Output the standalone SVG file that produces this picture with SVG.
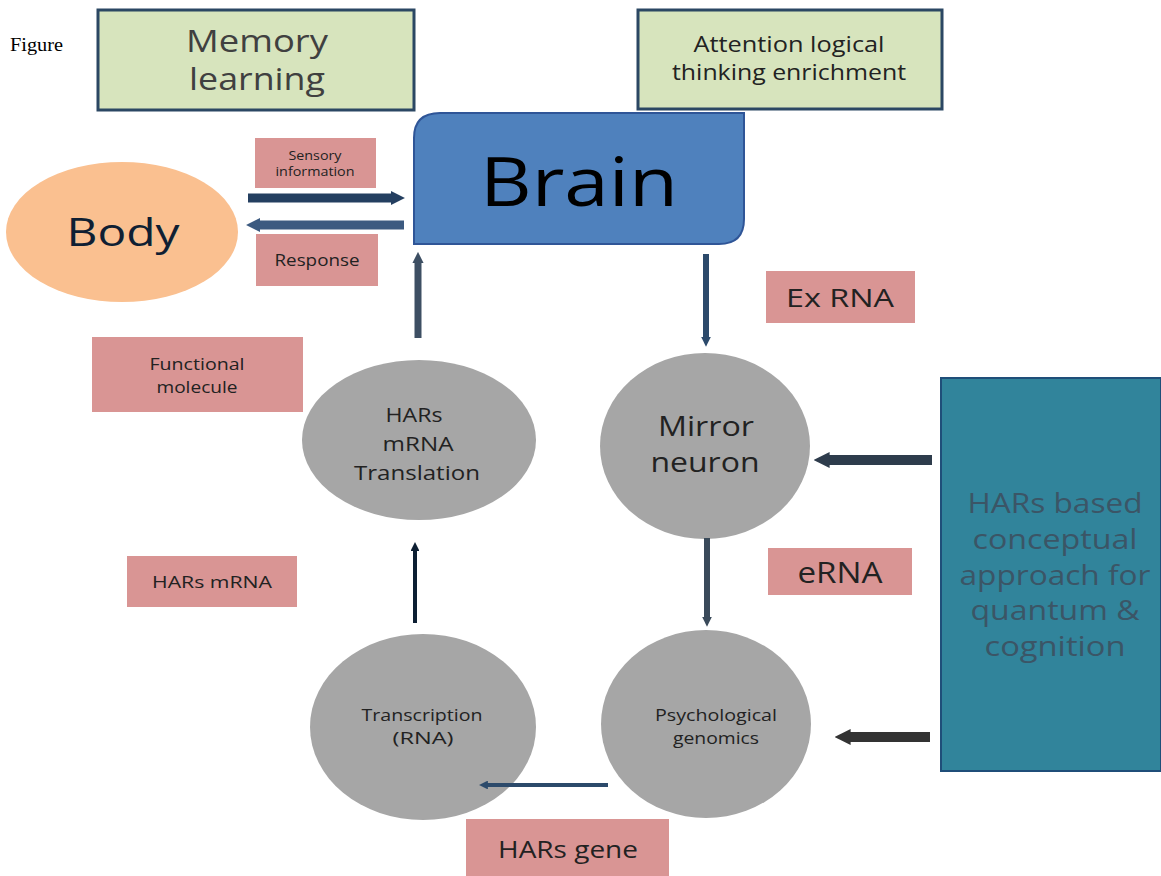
<svg xmlns="http://www.w3.org/2000/svg" width="1161" height="876" viewBox="0 0 1161 876">
<style>
.t{font-family:"Open Sans","Liberation Sans",sans-serif;text-anchor:middle;fill:#222;}
.green{fill:#d7e4bd;stroke:#2b4763;stroke-width:3;}
.pink{fill:#d99594;}
.gray{fill:#a6a6a6;}
.ar{fill:none;}
</style>
<defs>
<marker id="ah" viewBox="0 0 10 10" refX="1" refY="5" markerWidth="1.6" markerHeight="1.6" orient="auto" markerUnits="strokeWidth"><path d="M0,0 L10,5 L0,10 z" fill="context-stroke"/></marker>
<marker id="ah2" viewBox="0 0 10 10" refX="1" refY="5" markerWidth="2.2" markerHeight="2.2" orient="auto" markerUnits="strokeWidth"><path d="M0,0 L10,5 L0,10 z" fill="context-stroke"/></marker>
</defs>
<rect width="1161" height="876" fill="#fff"/>
<text x="10" y="51" font-family="Liberation Serif, serif" font-size="18" fill="#000" textLength="53" lengthAdjust="spacingAndGlyphs">Figure</text>

<g id="memory">
<rect class="green" x="98" y="10" width="316" height="100"/>
<text class="t" x="257" y="52" font-size="31" style="fill:#404040" textLength="142" lengthAdjust="spacingAndGlyphs">Memory</text>
<text class="t" x="257" y="90" font-size="31" style="fill:#404040" textLength="136" lengthAdjust="spacingAndGlyphs">learning</text>
</g>
<g id="attention">
<rect class="green" x="638" y="10" width="304" height="99"/>
<text class="t" x="789" y="52" font-size="21" textLength="191" lengthAdjust="spacingAndGlyphs">Attention logical</text>
<text class="t" x="789" y="80" font-size="21" textLength="234" lengthAdjust="spacingAndGlyphs">thinking enrichment</text>
</g>
<g id="brain">
<path d="M440,113 H744 V219 Q744,244 719,244 H414 V138 Q414,113 440,113 Z" fill="#4f81bd" stroke="#2f5597" stroke-width="2"/>
<text class="t" x="579" y="206" font-size="67" style="fill:#000" textLength="198" lengthAdjust="spacingAndGlyphs">Brain</text>
</g>
<g id="body">
<ellipse cx="122" cy="232" rx="116" ry="70" fill="#fac090"/>
<text class="t" x="123" y="246" font-size="39" style="fill:#0f1f33" textLength="113" lengthAdjust="spacingAndGlyphs">Body</text>
</g>
<g id="sensory">
<rect class="pink" x="255" y="138" width="121" height="50"/>
<text class="t" x="315" y="160" font-size="12" textLength="53" lengthAdjust="spacingAndGlyphs">Sensory</text>
<text class="t" x="315" y="176" font-size="12" textLength="79" lengthAdjust="spacingAndGlyphs">information</text>
</g>
<g id="response">
<rect class="pink" x="256" y="234" width="122" height="52"/>
<text class="t" x="317" y="266" font-size="16" textLength="85" lengthAdjust="spacingAndGlyphs">Response</text>
</g>
<g id="functional">
<rect class="pink" x="92" y="337" width="211" height="75"/>
<text class="t" x="197" y="370" font-size="17" textLength="95" lengthAdjust="spacingAndGlyphs">Functional</text>
<text class="t" x="197" y="393" font-size="17" textLength="81" lengthAdjust="spacingAndGlyphs">molecule</text>
</g>
<g id="hars-translation">
<ellipse class="gray" cx="419" cy="440" rx="117" ry="80"/>
<text class="t" x="414" y="422" font-size="20" textLength="57" lengthAdjust="spacingAndGlyphs">HARs</text>
<text class="t" x="418" y="451" font-size="20" textLength="71" lengthAdjust="spacingAndGlyphs">mRNA</text>
<text class="t" x="417" y="480" font-size="20" textLength="126" lengthAdjust="spacingAndGlyphs">Translation</text>
</g>
<g id="exrna">
<rect class="pink" x="766" y="271" width="149" height="52"/>
<text class="t" x="840" y="307" font-size="26" textLength="108" lengthAdjust="spacingAndGlyphs">Ex RNA</text>
</g>
<g id="mirror">
<ellipse class="gray" cx="705" cy="446" rx="105" ry="93"/>
<text class="t" x="706" y="436" font-size="27" textLength="96" lengthAdjust="spacingAndGlyphs">Mirror</text>
<text class="t" x="705" y="472" font-size="27" textLength="109" lengthAdjust="spacingAndGlyphs">neuron</text>
</g>
<g id="hars-approach">
<rect x="941" y="378" width="220" height="393" fill="#31849b" stroke="#1f4e79" stroke-width="2"/>
<text class="t" x="1055" y="513" font-size="28" style="fill:#3b5566" textLength="175" lengthAdjust="spacingAndGlyphs">HARs based</text>
<text class="t" x="1055" y="549" font-size="28" style="fill:#3b5566" textLength="165" lengthAdjust="spacingAndGlyphs">conceptual</text>
<text class="t" x="1055" y="585" font-size="28" style="fill:#3b5566" textLength="191" lengthAdjust="spacingAndGlyphs">approach for</text>
<text class="t" x="1055" y="620" font-size="28" style="fill:#3b5566" textLength="169" lengthAdjust="spacingAndGlyphs">quantum &amp;</text>
<text class="t" x="1055" y="656" font-size="28" style="fill:#3b5566" textLength="141" lengthAdjust="spacingAndGlyphs">cognition</text>
</g>
<g id="erna">
<rect class="pink" x="768" y="548" width="144" height="47"/>
<text class="t" x="840" y="583" font-size="29" textLength="85" lengthAdjust="spacingAndGlyphs">eRNA</text>
</g>
<g id="psych">
<ellipse class="gray" cx="706" cy="724" rx="105" ry="94"/>
<text class="t" x="716" y="721" font-size="16" textLength="122" lengthAdjust="spacingAndGlyphs">Psychological</text>
<text class="t" x="716" y="744" font-size="16" textLength="86" lengthAdjust="spacingAndGlyphs">genomics</text>
</g>
<g id="transcription">
<ellipse class="gray" cx="423" cy="727" rx="113" ry="93"/>
<text class="t" x="422" y="721" font-size="16" textLength="121" lengthAdjust="spacingAndGlyphs">Transcription</text>
<text class="t" x="423" y="744" font-size="16" textLength="61" lengthAdjust="spacingAndGlyphs">(RNA)</text>
</g>
<g id="harsmrna">
<rect class="pink" x="127" y="556" width="170" height="51"/>
<text class="t" x="212" y="588" font-size="17" textLength="120" lengthAdjust="spacingAndGlyphs">HARs mRNA</text>
</g>
<g id="harsgene">
<rect class="pink" x="466" y="819" width="203" height="57"/>
<text class="t" x="568" y="858" font-size="24" textLength="140" lengthAdjust="spacingAndGlyphs">HARs gene</text>
</g>

<g id="connectors" class="ar">
<path d="M248,198 H392" stroke="#243f60" stroke-width="9" marker-end="url(#ah)"/>
<path d="M404,225 H259" stroke="#3c5a80" stroke-width="9" marker-end="url(#ah)"/>
<path d="M418,338 V262" stroke="#3d4f63" stroke-width="7" marker-end="url(#ah)"/>
<path d="M706,254 V338" stroke="#2c4a6b" stroke-width="6" marker-end="url(#ah)"/>
<path d="M932,460 H828" stroke="#2e3c4c" stroke-width="10" marker-end="url(#ah)"/>
<path d="M707,538 V618" stroke="#3a4a5a" stroke-width="6" marker-end="url(#ah)"/>
<path d="M930,737 H849" stroke="#333" stroke-width="10" marker-end="url(#ah)"/>
<path d="M415,623 V550" stroke="#0d1f33" stroke-width="4" marker-end="url(#ah2)"/>
<path d="M608,785 H487" stroke="#2c4a6b" stroke-width="4" marker-end="url(#ah2)"/>
</g>
</svg>
